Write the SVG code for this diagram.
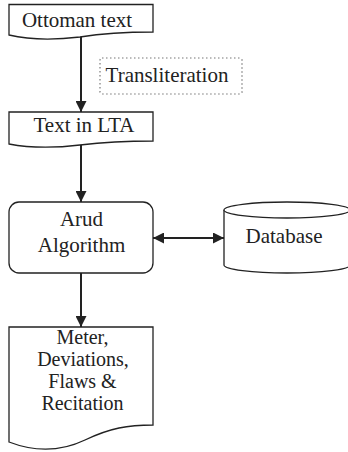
<svg xmlns="http://www.w3.org/2000/svg" width="348" height="452" viewBox="0 0 348 452">
<defs>
<style>
.box{fill:#fff;stroke:#222;stroke-width:1.3}
.dot{fill:none;stroke:#777;stroke-width:1.2;stroke-dasharray:1.5 2.5}
.t{font-family:"Liberation Serif",serif;font-size:21px;fill:#222;text-anchor:middle}
.s{font-size:20px}
.c{stroke:#222;stroke-width:2;fill:none}
</style>
<marker id="ah" markerWidth="11" markerHeight="11" refX="11" refY="5.5" orient="auto-start-reverse" markerUnits="userSpaceOnUse">
<path d="M0 0 L11 5.5 L0 11 Z" fill="#222"/>
</marker>
</defs>
<g id="connectors">
<line class="c" x1="81" y1="34" x2="81" y2="112" marker-end="url(#ah)"/>
<line class="c" x1="81" y1="145" x2="81" y2="202" marker-end="url(#ah)"/>
<line class="c" x1="81" y1="273" x2="81" y2="327" marker-end="url(#ah)"/>
<line class="c" x1="153" y1="238" x2="224" y2="238" marker-start="url(#ah)" marker-end="url(#ah)"/>
</g>
<g id="ottoman">
<path class="box" d="M9 4.5 H153 V32 C125 32 105 33 80 37 C55 40 30 40 9 35 Z"/>
<text class="t" x="77" y="27">Ottoman text</text>
</g>
<g id="transliteration">
<rect class="dot" x="100" y="58" width="142" height="36" rx="2"/>
<text class="t" x="167" y="82">Transliteration</text>
</g>
<g id="lta">
<path class="box" d="M9 112 H153 V141 C125 141 105 142 80 145 C55 148 30 148 9 144 Z"/>
<text class="t" x="84" y="132">Text in LTA</text>
</g>
<g id="arud">
<rect class="box" x="9" y="202" width="144" height="71" rx="10"/>
<text class="t" x="81.5" y="226">Arud</text>
<text class="t" x="81.5" y="252">Algorithm</text>
</g>
<g id="database">
<path class="box" d="M224 210 V265 A63 8 0 0 0 350 265 V210"/>
<ellipse class="box" cx="287" cy="210" rx="63" ry="8"/>
<text class="t" x="284" y="243">Database</text>
</g>
<g id="output">
<path class="box" d="M9 327 H153 V425 C128 425 110 428 85 440 C60 452 35 452 9 442 Z"/>
<text class="t s" x="82.5" y="344">Meter,</text>
<text class="t s" x="83" y="366">Deviations,</text>
<text class="t s" x="82.5" y="388">Flaws &amp;</text>
<text class="t s" x="82.5" y="410">Recitation</text>
</g>
</svg>
